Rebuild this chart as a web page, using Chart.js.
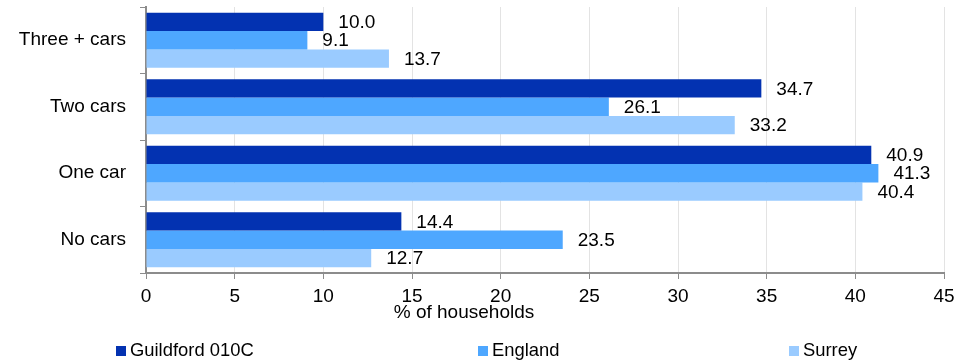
<!DOCTYPE html>
<html>
<head>
<meta charset="utf-8">
<script src="https://cdn.jsdelivr.net/npm/chart.js@4"></script>
<style>
  html, body { margin: 0; padding: 0; background: #fff; }
  #wrap { width: 965px; height: 362px; position: relative; }
</style>
</head>
<body>
<div id="wrap"><canvas id="carsChart" width="965" height="362"></canvas></div>
<script>
const categories = ['Three + cars', 'Two cars', 'One car', 'No cars'];
const seriesNames = ['Guildford 010C', 'England', 'Surrey'];
const guildford = [10.0, 34.7, 40.9, 14.4];
const england = [9.1, 26.1, 41.3, 23.5];
const surrey = [13.7, 33.2, 40.4, 12.7];
const xTicks = [0, 5, 10, 15, 20, 25, 30, 35, 40, 45];
const COLORS = ['#0332b1', '#4ea7ff', '#9acbff'];

const FONT = '"Liberation Sans", Arial, sans-serif';

// value labels, axis title and the spread-out legend
const extras = {
  id: 'extras',
  afterDatasetsDraw(chart) {
    const ctx = chart.ctx;
    ctx.save();
    ctx.font = '19px ' + FONT;
    ctx.fillStyle = '#000';
    ctx.textBaseline = 'middle';
    ctx.textAlign = 'left';
    chart.data.datasets.forEach((ds, i) => {
      chart.getDatasetMeta(i).data.forEach((bar, j) => {
        ctx.fillText(ds.data[j].toFixed(1), bar.x + 15, bar.y + 1);
      });
    });
    ctx.restore();
  },
  afterDraw(chart) {
    const ctx = chart.ctx;
    ctx.save();
    ctx.font = '19px ' + FONT;
    ctx.fillStyle = '#000';
    ctx.textBaseline = 'middle';
    ctx.textAlign = 'center';
    ctx.fillText('% of households', 464, 313);

    const legendX = [116, 478, 789];
    ctx.font = '18.4px ' + FONT;
    ctx.textAlign = 'left';
    seriesNames.forEach((name, i) => {
      ctx.fillStyle = COLORS[i];
      ctx.fillRect(legendX[i], 346, 10, 10);
      ctx.fillStyle = '#000';
      ctx.fillText(name, legendX[i] + 14, 351);
    });
    ctx.restore();
  }
};

new Chart(document.getElementById('carsChart').getContext('2d'), {
  type: 'bar',
  data: {
    labels: categories,
    datasets: [
      { label: seriesNames[0], data: guildford, backgroundColor: COLORS[0] },
      { label: seriesNames[1], data: england, backgroundColor: COLORS[1] },
      { label: seriesNames[2], data: surrey, backgroundColor: COLORS[2] }
    ]
  },
  options: {
    indexAxis: 'y',
    responsive: false,
    animation: false,
    datasets: { bar: { categoryPercentage: 0.83, barPercentage: 1.0, borderWidth: 0 } },
    layout: { padding: { top: 7, right: 21, left: 0, bottom: 0 } },
    plugins: { legend: { display: false }, tooltip: { enabled: false } },
    scales: {
      x: {
        min: 0, max: 45,
        afterBuildTicks: s => { s.ticks = xTicks.map(v => ({ value: v })); },
        afterFit: s => { s.height = 89; },
        grid: { color: '#e3e3e3', tickColor: '#8c8c8c', tickLength: 6 },
        border: { color: '#8c8c8c', width: 2 },
        ticks: { color: '#000', font: { family: FONT, size: 19 }, padding: 6, maxRotation: 0 }
      },
      y: {
        afterFit: s => { s.width = 146; s.paddingTop = 0; s.paddingBottom = 0; },
        grid: { drawOnChartArea: false, offset: true, tickColor: '#8c8c8c', tickLength: 6 },
        border: { color: '#8c8c8c', width: 2 },
        ticks: { color: '#000', font: { family: FONT, size: 19 }, padding: 14 }
      }
    }
  },
  plugins: [extras]
});
</script>
</body>
</html>
